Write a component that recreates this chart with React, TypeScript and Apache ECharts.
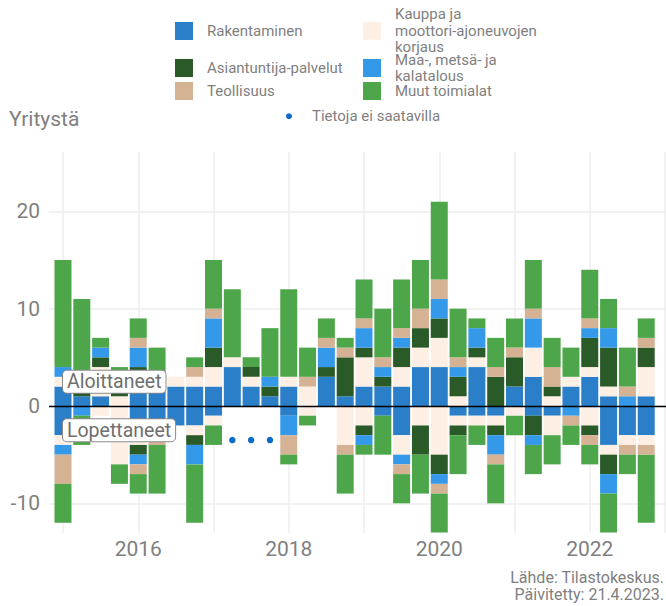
import React, { useEffect, useRef } from "react";
import * as echarts from "echarts";

// ---------- DATA ----------
const quarters = [
  "2015 Q1", "2015 Q2", "2015 Q3", "2015 Q4",
  "2016 Q1", "2016 Q2", "2016 Q3", "2016 Q4",
  "2017 Q1", "2017 Q2", "2017 Q3", "2017 Q4",
  "2018 Q1", "2018 Q2", "2018 Q3", "2018 Q4",
  "2019 Q1", "2019 Q2", "2019 Q3", "2019 Q4",
  "2020 Q1", "2020 Q2", "2020 Q3", "2020 Q4",
  "2021 Q1", "2021 Q2", "2021 Q3", "2021 Q4",
  "2022 Q1", "2022 Q2", "2022 Q3", "2022 Q4",
];

const industries = [
  "Rakentaminen",
  "Kauppa ja moottori-ajoneuvojen korjaus",
  "Asiantuntija-palvelut",
  "Maa-, metsä- ja kalatalous",
  "Teollisuus",
  "Muut toimialat",
];

// Started companies (aloittaneet)
const startedRakentaminen = [2, 1, 1, 0, 2, 2, 2, 2, 2, 4, 2, 1, 2, 0, 3, 1, 2, 2, 2, 4, 4, 0, 4, 0, 2, 3, 0, 2, 3, 1, 0, 1];
const startedKauppa = [1, 0, 3, 1, 0, 0, 1, 1, 2, 1, 1, 0, 1, 2, 0, 0, 3, 0, 2, 2, 3, 1, 1, 0, 0, 3, 1, 1, 1, 1, 0, 3];
const startedAsiantuntija = [0, 1, 1, 1, 2, 0, 0, 0, 2, 0, 1, 1, 0, 0, 1, 4, 1, 1, 2, 2, 2, 2, 1, 3, 3, 0, 1, 0, 3, 4, 0, 2];
const startedMaa = [1, 0, 1, 0, 2, 0, 0, 0, 3, 0, 0, 1, 0, 0, 2, 0, 2, 1, 1, 0, 2, 1, 2, 0, 0, 3, 0, 0, 1, 2, 1, 0];
const startedTeollisuus = [0, 0, 0, 0, 1, 0, 0, 1, 1, 0, 0, 0, 0, 1, 1, 1, 1, 1, 1, 2, 2, 1, 0, 1, 1, 1, 2, 0, 1, 0, 1, 1];
const startedMuut = [11, 9, 1, 2, 2, 4, 0, 1, 5, 7, 1, 5, 9, 3, 2, 1, 4, 5, 5, 5, 8, 5, 1, 3, 3, 5, 3, 3, 5, 3, 4, 2];

// Ended companies (lopettaneet); null = no data available
const endedRakentaminen = [3, 0, 0, 0, 2, 3, 2, 2, 1, null, null, null, 1, 0, 0, 0, 0, 1, 3, 0, 0, 1, 1, 1, 0, 1, 1, 0, 0, 4, 3, 3];
const endedKauppa = [1, 0, 1, 6, 2, 0, 0, 1, 1, null, null, null, 0, 1, 0, 4, 2, 0, 2, 2, 5, 1, 1, 1, 1, 0, 2, 0, 2, 1, 1, 1];
const endedAsiantuntija = [0, 0, 0, 0, 1, 0, 0, 1, 0, null, null, null, 0, 0, 0, 0, 1, 0, 0, 3, 2, 1, 0, 1, 0, 2, 0, 0, 1, 2, 0, 0];
const endedMaa = [1, 1, 0, 0, 1, 0, 0, 2, 0, null, null, null, 2, 0, 0, 0, 1, 0, 1, 0, 1, 0, 0, 2, 0, 1, 0, 1, 0, 2, 0, 0];
const endedTeollisuus = [3, 0, 0, 0, 1, 1, 0, 0, 0, null, null, null, 2, 0, 0, 1, 0, 0, 1, 0, 1, 0, 0, 1, 0, 0, 0, 1, 1, 0, 1, 1];
const endedMuut = [4, 3, 0, 2, 2, 5, 0, 6, 2, null, null, null, 1, 1, 0, 4, 1, 4, 3, 4, 4, 4, 2, 4, 2, 3, 3, 2, 2, 4, 2, 7];

const missingQuarters = ["2017 Q2", "2017 Q3", "2017 Q4"];
const missingMarkerValue = -3.5;

const yTickValues = [-10, 0, 10, 20];
const xLabelYears = [2016, 2018, 2020, 2022];
const xGridYears = [2015, 2016, 2017, 2018, 2019, 2020, 2021, 2022, 2023];

const annotations = [
  { quarter: "2015 Q1", value: 2.5, text: "Aloittaneet" },
  { quarter: "2015 Q1", value: -2.5, text: "Lopettaneet" },
];

// ---------- STYLE ----------
const colors = ["#2a7fc8", "#fdefe4", "#2a5a27", "#3399e8", "#d6b294", "#4ea64b"];
const FONT = "Roboto";
const GREY = "#7f7f7f";

const toYear = (q: string) => {
  const [y, qq] = q.split(" Q");
  return Number(y) + (Number(qq) - 1) / 4;
};

const legendLabel: Record<string, string> = {
  "Kauppa ja moottori-ajoneuvojen korjaus": "Kauppa ja\nmoottori-ajoneuvojen\nkorjaus",
  "Maa-, metsä- ja kalatalous": "Maa-, metsä- ja\nkalatalous",
};

export default function App() {
  const ref = useRef<HTMLDivElement>(null);

  useEffect(() => {
    if (!ref.current) return;
    const chart = echarts.init(ref.current, null, { renderer: "svg" });

    const started = [startedRakentaminen, startedKauppa, startedAsiantuntija, startedMaa, startedTeollisuus, startedMuut];
    const ended = [endedRakentaminen, endedKauppa, endedAsiantuntija, endedMaa, endedTeollisuus, endedMuut];

    // value first, year second: makes the stack act on the value dimension
    const barBase = {
      type: "bar",
      stack: "total",
      barWidth: 17,
      z: 2,
      encode: { x: 1, y: 0 },
      emphasis: { disabled: true },
    };

    const startedSeries = industries.map((name, k) => ({
      ...barBase,
      name,
      itemStyle: { color: colors[k] },
      data: quarters.map((q, i) => [started[k][i], toYear(q)]),
      ...(k === 0
        ? {
            markLine: {
              silent: true,
              symbol: ["none", "none"],
              label: { show: false },
              lineStyle: { color: "#000", width: 1.3, type: "solid" },
              data: [{ yAxis: 0 }],
              z: 6,
            },
          }
        : {}),
    }));

    const endedSeries = industries.map((name, k) => ({
      ...barBase,
      name,
      itemStyle: { color: colors[k] },
      data: quarters.map((q, i) => [-(ended[k][i] ?? 0), toYear(q)]),
    }));

    const legendItem = (name: string, left: number, top: number) => ({
      data: [name],
      left,
      top,
      orient: "vertical",
      padding: 0,
      itemGap: 0,
      icon: "rect",
      itemWidth: 18,
      itemHeight: 18,
      selectedMode: false,
      formatter: (n: string) => legendLabel[n] ?? n,
      textStyle: {
        fontFamily: FONT,
        fontSize: 15,
        lineHeight: 16.5,
        color: GREY,
        padding: [0, 0, 0, 9],
      },
    });

    const option: any = {
      animation: false,
      textStyle: { fontFamily: FONT },
      title: {
        text: "Yritystä",
        left: 9,
        top: 108,
        padding: 0,
        textStyle: { fontFamily: FONT, fontSize: 21, fontWeight: "normal", color: GREY },
      },
      legend: [
        legendItem(industries[0], 175, 22),
        legendItem(industries[2], 175, 59),
        legendItem(industries[4], 175, 82),
        legendItem(industries[1], 363, 6),
        legendItem(industries[3], 363, 51.5),
        legendItem(industries[5], 363, 82),
        {
          data: ["Tietoja ei saatavilla"],
          left: 286,
          top: 108,
          padding: 0,
          icon: "circle",
          itemWidth: 6,
          itemHeight: 6,
          selectedMode: false,
          textStyle: { fontFamily: FONT, fontSize: 15, lineHeight: 16.5, color: GREY, padding: [0, 0, 0, 15] },
        },
      ],
      grid: { left: 49, right: 0, top: 152, bottom: 73, containLabel: false, outerBoundsMode: "none" },
      xAxis: {
        type: "value",
        min: 2014.814,
        max: 2023.013,
        axisLine: { show: false },
        axisTick: { show: false, customValues: xGridYears },
        axisLabel: {
          customValues: xLabelYears,
          formatter: (v: number) => String(v),
          fontFamily: FONT,
          fontSize: 21,
          color: GREY,
          margin: 5,
        },
        splitLine: { show: true, lineStyle: { color: "#eeeeee", width: 1.5 } },
      },
      yAxis: {
        type: "value",
        min: -13.05,
        max: 26.1,
        axisLine: { show: false },
        axisTick: { show: false, customValues: yTickValues },
        axisLabel: {
          customValues: yTickValues,
          formatter: (v: number) => String(v),
          fontFamily: FONT,
          fontSize: 21,
          color: GREY,
          margin: 9,
        },
        splitLine: { show: true, lineStyle: { color: "#eeeeee", width: 1.5 } },
      },
      graphic: [
        {
          type: "text",
          right: 2,
          top: 569,
          style: {
            text: "Lähde: Tilastokeskus.\nPäivitetty: 21.4.2023.",
            textAlign: "right",
            fill: GREY,
            font: `16px ${FONT}`,
            lineHeight: 17,
          },
        },
      ],
      series: [
        ...startedSeries,
        ...endedSeries,
        {
          type: "scatter",
          name: "Tietoja ei saatavilla",
          symbol: "circle",
          symbolSize: 6.5,
          z: 5,
          itemStyle: { color: "#0a6cc6", opacity: 1 },
          data: missingQuarters.map((q) => [toYear(q), missingMarkerValue]),
        },
        {
          type: "scatter",
          name: "annotations",
          symbolSize: 0,
          z: 10,
          silent: true,
          itemStyle: { opacity: 1 },
          data: annotations.map((a) => ({ value: [toYear(a.quarter), a.value], text: a.text })),
          label: {
            show: true,
            position: "right",
            distance: 0,
            opacity: 1,
            formatter: (p: any) => p.data.text,
            fontFamily: FONT,
            fontSize: 19.5,
            lineHeight: 20,
            color: "#6f6f6f",
            backgroundColor: "#ffffff",
            borderColor: "#8a8a8a",
            borderWidth: 1,
            borderRadius: 4,
            padding: [1, 4, 1, 4],
          },
        },
      ],
    };

    chart.setOption(option);
    return () => chart.dispose();
  }, []);

  return (
    <div
      ref={ref}
      style={{ position: "fixed", left: 0, top: 0, width: 666, height: 606, background: "#fff" }}
    />
  );
}
